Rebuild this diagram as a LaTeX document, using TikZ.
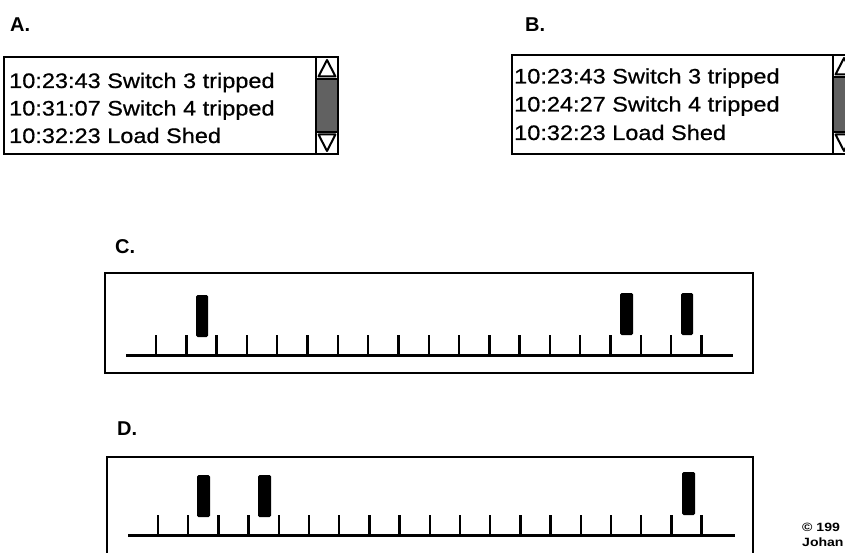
\documentclass[tikz,border=0pt]{standalone}
\usepackage{fontspec}
\setmainfont{Liberation Sans}
\newfontfamily\logfont{Liberation Sans}[FakeStretch=1.12,FakeBold=0.6]
\newfontfamily\copyfont{Liberation Sans}[FakeStretch=1.17]
\begin{document}
\begin{tikzpicture}[x=1pt,y=-1pt,
  frame/.style={draw=black,line width=2pt},
  logtext/.style={anchor=base west,inner sep=0pt,font=\logfont\fontsize{21}{25}\selectfont},
  panellabel/.style={anchor=base west,inner sep=0pt,font=\bfseries\fontsize{20}{24}\selectfont},
  axisline/.style={line width=3pt},
  tickline/.style={line width=2.4pt},
  eventbar/.style={fill=black,rounded corners=1.5pt},
  sbcell/.style={draw=black,line width=2pt,fill=white},
  sbarrow/.style={draw=black,line width=2pt,fill=white,line join=round},
  sbtrack/.style={draw=black,line width=2pt,fill=black!62},
  copyr/.style={anchor=base west,inner sep=0pt,font=\copyfont\bfseries\fontsize{12}{14}\selectfont}]
\useasboundingbox (0,0) rectangle (845,553);

% ---------- Panel A ----------
\node[panellabel] (labA) at (10,32) {A.};
\draw[frame] (4,57) rectangle (338,154);
\node[logtext] (a1) at (9,88) {10:23:43 Switch 3 tripped};
\node[logtext] (a2) at (9,115.5) {10:31:07 Switch 4 tripped};
\node[logtext] (a3) at (9,143) {10:32:23 Load Shed};
% scrollbar A
\draw[sbcell] (316,57) rectangle (338,79);
\draw[sbarrow] (327,60) -- (318.5,76.5) -- (335.5,76.5) -- cycle;
\draw[sbtrack] (316,79) rectangle (338,132);
\draw[sbcell] (316,132) rectangle (338,154);
\draw[sbarrow] (327,151) -- (318.5,134.5) -- (335.5,134.5) -- cycle;

% ---------- Panel B ----------
\node[panellabel] (labB) at (525,32) {B.};
\draw[frame] (512,55) rectangle (860,154);
\node[logtext] (b1) at (514,83.5) {10:23:43 Switch 3 tripped};
\node[logtext] (b2) at (514,111.5) {10:24:27 Switch 4 tripped};
\node[logtext] (b3) at (514,140) {10:32:23 Load Shed};
% scrollbar B (cut off at the right edge)
\draw[sbcell] (833,55) rectangle (855,77);
\draw[sbarrow] (844,58) -- (835.5,74.5) -- (852.5,74.5) -- cycle;
\draw[sbtrack] (833,77) rectangle (855,132);
\draw[sbcell] (833,132) rectangle (855,154);
\draw[sbarrow] (844,151) -- (835.5,134.5) -- (852.5,134.5) -- cycle;

% ---------- Panel C ----------
\node[panellabel] (labC) at (115,253) {C.};
\draw[frame] (105,273) rectangle (753,373);
\coordinate (c0) at (126,355);
\coordinate (c1) at (733,355);
\draw[axisline] (c0) -- (c1);
\foreach \k in {0,...,18}{
  \draw[tickline] ({156+30.3*\k},355) -- ({156+30.3*\k},335);
}
\fill[eventbar] (196,295) rectangle (208,337);
\fill[eventbar] (620,293) rectangle (633,335);
\fill[eventbar] (681,293) rectangle (693,335);

% ---------- Panel D ----------
\node[panellabel] (labD) at (117,435) {D.};
\draw[frame] (107,457) rectangle (753,560);
\coordinate (d0) at (128,535);
\coordinate (d1) at (735,535);
\draw[axisline] (d0) -- (d1);
\foreach \k in {0,...,18}{
  \draw[tickline] ({158+30.2*\k},535) -- ({158+30.2*\k},515);
}
\fill[eventbar] (197,475) rectangle (210,517);
\fill[eventbar] (258,475) rectangle (271,517);
\fill[eventbar] (682,472) rectangle (695,515);

% ---------- copyright ----------
\node[copyr] (cp1) at (802,531) {© 199};
\node[copyr] (cp2) at (802,546) {Johan};
\end{tikzpicture}
\end{document}
